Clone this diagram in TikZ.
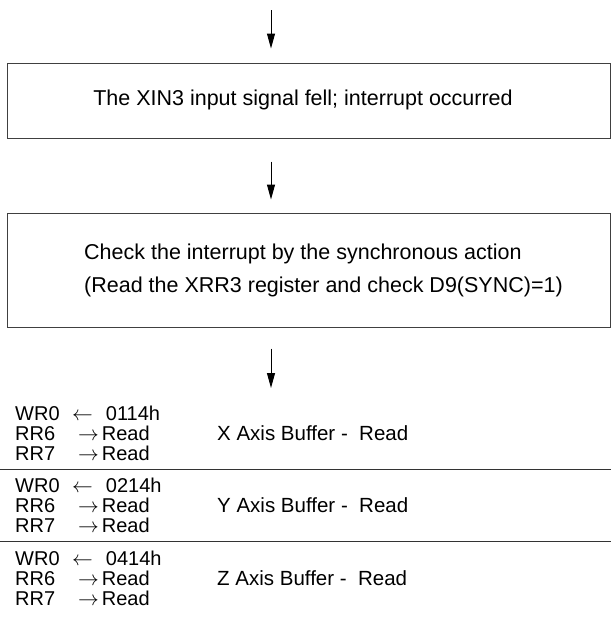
\documentclass[tikz,border=0pt]{standalone}
\usepackage{fontspec}
\setmainfont{Liberation Sans}
\usetikzlibrary{arrows.meta,positioning}

\begin{document}
\begin{tikzpicture}[x=1pt, y=-1pt, >={Triangle[length=15pt,width=8pt]},
  box/.style={draw=black!75, line width=1pt, minimum width=603pt, inner sep=0pt},
  txt/.style={font=\fontsize{21.5}{33}\selectfont, inner sep=0pt},
  regs/.style={anchor=west, align=left, inner sep=0pt, font=\fontsize{20}{20}\selectfont},
  buf/.style={anchor=west, inner sep=0pt, font=\fontsize{20.5}{22}\selectfont},
  flow/.style={->, line width=1pt},
  sep/.style={line width=1pt, draw=black!80}]
\useasboundingbox (0,0) rectangle (611,624);
\coordinate (in1) at (271,10);
\node[box, minimum height=75pt] (box1) at (308.5,100.5) {};
\node[txt] (t1) at (303,100) {The XIN3 input signal fell; interrupt occurred};
\node[box, minimum height=114pt] (box2) at (308.5,270) {};
\node[txt, anchor=west, align=left] (t2) at (84,270) {Check the interrupt by the synchronous action\\(Read the XRR3 register and check D9(SYNC)=1)};
\draw[flow] (in1) -- ([yshift=14pt]in1 |- box1.north);
\draw[flow, shorten <=23pt, shorten >=13pt] (in1 |- box1.south) -- (in1 |- box2.north);
\draw[flow, shorten <=21pt] (in1 |- box2.south) -- (271,388);
% register table
\node[regs] (xregs) at (15,433) {\makebox[57pt][l]{WR0}$\leftarrow$\hspace{13pt}0114h\\\makebox[63pt][l]{RR6}$\rightarrow$\hspace{3pt}Read\\\makebox[63pt][l]{RR7}$\rightarrow$\hspace{3pt}Read};
\node[buf] (xbuf) at (217,433) {X Axis Buffer -\ \ Read};
\draw[sep] (0,469) -- (611,469);
\node[regs] (yregs) at (15,505) {\makebox[57pt][l]{WR0}$\leftarrow$\hspace{13pt}0214h\\\makebox[63pt][l]{RR6}$\rightarrow$\hspace{3pt}Read\\\makebox[63pt][l]{RR7}$\rightarrow$\hspace{3pt}Read};
\node[buf] (ybuf) at (217,505) {Y Axis Buffer -\ \ Read};
\draw[sep] (0,541) -- (611,541);
\node[regs] (zregs) at (15,578) {\makebox[57pt][l]{WR0}$\leftarrow$\hspace{13pt}0414h\\\makebox[63pt][l]{RR6}$\rightarrow$\hspace{3pt}Read\\\makebox[63pt][l]{RR7}$\rightarrow$\hspace{3pt}Read};
\node[buf] (zbuf) at (217,578) {Z Axis Buffer -\ \ Read};
\end{tikzpicture}
\end{document}
